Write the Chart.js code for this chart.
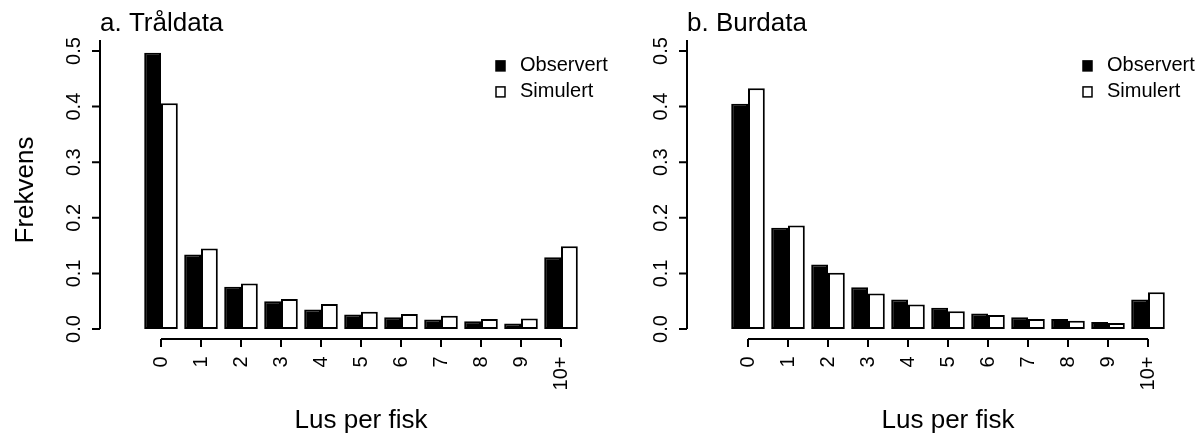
<!DOCTYPE html>
<html>
<head>
<meta charset="utf-8">
<script src="https://cdn.jsdelivr.net/npm/chart.js@4.4.1/dist/chart.umd.min.js"></script>
<style>
  html, body { margin: 0; padding: 0; background: #fff; }
  #wrap { position: relative; width: 1199px; height: 434px; overflow: hidden; }
  canvas { position: absolute; top: 0; }
  #chartA { left: 0; }
  #chartB { left: 587px; }
</style>
</head>
<body>
<div id="wrap">
  <canvas id="chartA" width="640" height="434"></canvas>
  <canvas id="chartB" width="612" height="434"></canvas>
</div>
<script>
// Kategorier (lus per fisk)
var categories = ['0', '1', '2', '3', '4', '5', '6', '7', '8', '9', '10+'];

// a. Tråldata
var tralObservert = [0.497, 0.134, 0.076, 0.050, 0.035, 0.026, 0.021, 0.017, 0.014, 0.010, 0.129];
var tralSimulert  = [0.406, 0.145, 0.082, 0.054, 0.045, 0.031, 0.027, 0.024, 0.018, 0.019, 0.149];

// b. Burdata
var burObservert = [0.405, 0.182, 0.116, 0.075, 0.053, 0.038, 0.028, 0.021, 0.018, 0.0125, 0.053];
var burSimulert  = [0.433, 0.186, 0.101, 0.064, 0.044, 0.032, 0.025, 0.018, 0.015, 0.011, 0.066];

// Y-akse
var yTicks = [0, 0.1, 0.2, 0.3, 0.4, 0.5];
var yTickLabels = ['0.0', '0.1', '0.2', '0.3', '0.4', '0.5'];

var FONT = '"Liberation Sans", Arial, Helvetica, sans-serif';

// R-stil akser, aksetitler og tegnforklaring
var rStyle = {
  id: 'rStyle',
  afterDraw: function(chart, args, opts) {
    var ctx = chart.ctx, a = chart.chartArea;
    var x = chart.scales.x, y = chart.scales.y;
    ctx.save();
    ctx.strokeStyle = '#000';
    ctx.fillStyle = '#000';
    ctx.lineWidth = 2;

    // y-akse
    ctx.beginPath();
    ctx.moveTo(a.left, y.getPixelForValue(0)); ctx.lineTo(a.left, a.top);
    yTicks.forEach(function(v) {
      var p = y.getPixelForValue(v);
      ctx.moveTo(a.left, p); ctx.lineTo(a.left - 8, p);
    });
    ctx.stroke();

    ctx.font = '20px ' + FONT;
    ctx.textAlign = 'center';
    ctx.textBaseline = 'alphabetic';
    yTicks.forEach(function(v, i) {
      var p = y.getPixelForValue(v);
      ctx.save();
      ctx.translate(a.left - 20, p);
      ctx.rotate(-Math.PI / 2);
      ctx.fillText(yTickLabels[i], 0, 0);
      ctx.restore();
    });

    // x-akse
    var axY = a.bottom + 10;
    var xFirst = x.getPixelForValue(0);
    var xLast = x.getPixelForValue(categories.length - 1);
    ctx.beginPath();
    ctx.moveTo(xFirst, axY); ctx.lineTo(xLast, axY);
    categories.forEach(function(c, i) {
      var p = x.getPixelForValue(i);
      ctx.moveTo(p, axY); ctx.lineTo(p, axY + 8);
    });
    ctx.stroke();

    ctx.textAlign = 'right';
    ctx.textBaseline = 'middle';
    categories.forEach(function(c, i) {
      var p = x.getPixelForValue(i);
      ctx.save();
      ctx.translate(p, axY + 17.5);
      ctx.rotate(-Math.PI / 2);
      ctx.fillText(c, 0, 0);
      ctx.restore();
    });

    // aksetitler
    ctx.font = '26px ' + FONT;
    ctx.textAlign = 'center';
    ctx.textBaseline = 'alphabetic';
    ctx.fillText(opts.xTitle, (xFirst + xLast) / 2, 428);

    if (opts.yTitle) {
      ctx.save();
      ctx.translate(33, y.getPixelForValue(0.25));
      ctx.rotate(-Math.PI / 2);
      ctx.fillText(opts.yTitle, 0, 0);
      ctx.restore();
    }

    // tegnforklaring
    ctx.font = '20px ' + FONT;
    ctx.textAlign = 'left';
    ctx.textBaseline = 'middle';
    ctx.lineWidth = 1.5;
    chart.data.datasets.forEach(function(ds, i) {
      var cy = a.top + 26 + i * 26;
      var sx = a.left + 396;
      ctx.fillStyle = ds.backgroundColor;
      ctx.fillRect(sx, cy - 5, 9, 10);
      ctx.strokeRect(sx, cy - 5, 9, 10);
      ctx.fillStyle = '#000';
      ctx.fillText(ds.label, a.left + 420, cy);
    });

    ctx.restore();
  }
};

function toPoints(values) {
  return values.map(function(v, i) { return { x: i, y: v }; });
}

function drawPanel(canvasId, title, observert, simulert, yTitle, padRight) {
  var ctx = document.getElementById(canvasId).getContext('2d');
  return new Chart(ctx, {
    type: 'bar',
    data: {
      datasets: [{
        label: 'Observert',
        backgroundColor: '#000000',
        borderColor: '#000000',
        borderWidth: 2,
        borderSkipped: false,
        data: toPoints(observert)
      }, {
        label: 'Simulert',
        backgroundColor: '#ffffff',
        borderColor: '#000000',
        borderWidth: 2,
        borderSkipped: false,
        data: toPoints(simulert)
      }]
    },
    options: {
      responsive: false,
      animation: false,
      devicePixelRatio: 1,
      categoryPercentage: 0.84,
      barPercentage: 1.0,
      layout: { padding: { top: 8.4, bottom: 105, left: 100, right: padRight } },
      scales: {
        x: {
          type: 'linear',
          display: false,
          offset: false,
          min: -1.525,
          max: 10.5,
          afterBuildTicks: function(s) {
            s.ticks = categories.map(function(c, i) { return { value: i }; });
          }
        },
        y: {
          display: false,
          min: 0,
          max: 0.52
        }
      },
      plugins: {
        legend: { display: false },
        tooltip: { enabled: false },
        title: {
          display: true,
          text: title,
          align: 'start',
          color: '#000',
          font: { family: FONT, size: 26, weight: 'normal', lineHeight: 1.2 },
          padding: { top: 0, bottom: 0.3 }
        },
        rStyle: { xTitle: 'Lus per fisk', yTitle: yTitle }
      }
    },
    plugins: [rStyle]
  });
}

drawPanel('chartA', 'a. Tråldata', tralObservert, tralSimulert, 'Frekvens', 59);
drawPanel('chartB', 'b. Burdata', burObservert, burSimulert, null, 31);
</script>
</body>
</html>
